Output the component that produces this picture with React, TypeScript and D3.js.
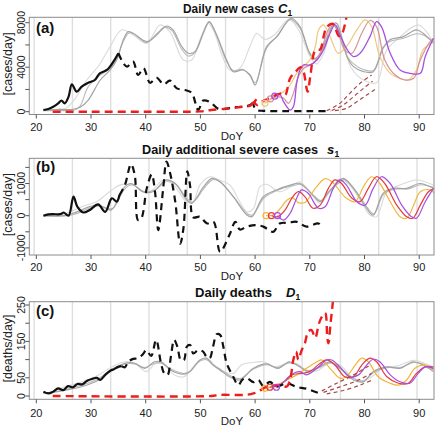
import React from "react";
import * as d3 from "d3";

type P = [number, number];

// ---------- shared axis values ----------
const X_TICKS = [20, 30, 40, 50, 60, 70, 80, 90];
const WEEK_LINES = [19.6, 26.6, 33.6, 40.6, 47.6, 54.6, 61.6, 68.6, 75.6, 82.6, 89.6];
const A_Y_TICKS = [0, 2000, 4000, 6000, 8000];
const A_Y_LABELS = [0, 4000, 8000];
const B_Y_TICKS = [-1000, -500, 0, 500, 1000, 1500];
const B_Y_LABELS = [-1000, 0, 1000];
const C_Y_TICKS = [0, 50, 100, 150, 200, 250];
const C_Y_LABELS = [0, 50, 150, 250];

// ---------- panel (a): daily new cases ----------
const A_OBS: P[] = [[21.3,150],[22.2,250],[23.1,450],[24.0,750],[24.6,1000],[25.2,750],[25.9,1350],[26.5,2450],[27.4,1800],[28.3,2250],[29.5,2600],[30.7,2850],[31.6,3450],[32.9,3750],[34.1,4500],[35.0,5250]];
const A_OBS_DASH: P[] = [[35.0,5250],[36.0,4300],[36.6,4050],[37.7,4500],[38.6,3300],[39.6,3900],[40.8,2600],[42.0,3050],[43.3,2450],[44.4,2800],[45.7,2100],[47.2,1950],[48.4,1700],[49.6,150],[50.5,1000],[51.8,850],[53.3,250],[54.5,250],[56.0,400],[57.8,450],[59.1,600],[60.1,1050],[59.7,650],[60.3,150],[61.5,80],[65,50],[70,50],[73.8,50]];
const A_RED_DASH: P[] = [[23,0],[30,0],[40,0],[50,30],[52,150],[55.4,300],[57.8,450],[59.1,550],[60.3,1150],[59.9,850],[60.4,600],[61.2,900],[62.1,1100],[63.3,1400],[64.9,1650],[65.5,1500],[66.4,3000],[67.6,3700],[68.3,4000],[68.8,3700],[69.6,1800],[70.1,3200],[71.0,5500],[71.9,5600],[72.5,6700],[73.1,7600],[74.2,7900],[75.3,6800],[75.8,6900],[76.7,8500]];
const A_GRAY_DARK: P[] = [[21.3,150],[24,200],[26.5,200],[28,400],[29.5,1050],[31.7,2850],[33.5,3750],[34.7,4650],[35.9,6450],[36.8,7200],[37.7,7050],[40.2,6300],[42.0,6900],[43.8,7700],[45.0,7350],[46.6,5850],[47.8,5250],[49.0,5400],[50.5,7050],[51.6,8100],[52.8,7100],[54.8,4650],[56.0,3600],[57.8,3750],[59.1,3300],[60.0,2400],[62.1,5850],[64.0,6750],[66.6,8400],[68.2,7650],[70.0,5250],[71.0,4800],[71.9,5250],[74.4,7950],[75.0,7900],[76.8,4950],[78.0,4050],[79.8,3600],[81.6,3600],[83.4,5700],[84.6,6450],[87.1,6750],[89.5,7350],[90.7,7050],[92.6,6150]];
const A_GRAY_MID: P[] = [[21.3,100],[25,100],[27,150],[28,500],[29.5,2250],[31.7,3300],[33.5,3900],[34.7,4800],[35.9,6300],[37.0,7100],[38,6950],[40.2,6200],[42.2,7100],[43.5,7600],[44.8,7300],[46.6,5600],[47.8,5000],[49,5300],[50.5,7000],[51.6,8050],[52.8,7000],[54.8,4500],[56,3700],[57.8,3800],[59.1,3200],[60,2600],[62.1,5700],[64,6800],[66.5,8300],[68.2,7500],[70,5200],[71,4700],[72,5200],[74.4,7800],[75,7700],[76.8,5000],[78,4300],[79.8,3800],[81.6,3700],[83.4,5800],[84.6,6300],[87.1,6600],[89.5,7000],[90.7,6900],[92.6,6300]];
const A_GRAY_LIGHT: P[] = [[21.3,100],[23,200],[25.4,300],[27,1100],[29.2,2850],[31.5,4200],[33.5,5850],[35.6,7350],[37.7,6900],[40.2,6150],[42.6,7800],[44.4,7200],[46.9,4650],[48.4,4650],[49.9,6450],[51.4,7950],[52.5,7200],[54,5000],[55.4,3750],[57.2,3900],[59,5800],[60.3,7050],[61.8,6500],[63.5,6900],[66.2,8300],[68,7300],[70,5000],[71.2,4300],[72.5,5200],[74.3,7700],[76,6500],[77.5,4000],[80,2800],[82.2,2600],[84,5500],[86,6500],[89.9,7800],[92.6,6200]];
const A_ORANGE: P[] = [[61.8,750],[62.7,1050],[64.0,1500],[65.2,1800],[66.4,2400],[67.6,3450],[68.8,4050],[70.0,4650],[71.0,5850],[71.6,7350],[72.5,7800],[73.7,6750],[75.2,5250],[76.7,5850],[78.6,7350],[80.1,8250],[81.3,7650],[82.8,4950],[84.7,3450],[86.5,3000],[88.0,2850],[89.5,3750],[90.7,5550],[92.6,6300]];
const A_RED: P[] = [[62.8,1150],[64.2,1350],[65.2,1200],[66.1,750],[67.0,1650],[67.9,3150],[68.9,3900],[70.6,4350],[71.9,5250],[73.1,7050],[74.2,7900],[75.2,7050],[76.4,5550],[77.7,5250],[79.5,7050],[81.0,8200],[82.2,7650],[83.7,4650],[85.6,3300],[87.4,2850],[89.0,3000],[90.2,4650],[92.0,6300],[92.7,6600]];
const A_PURPLE: P[] = [[63.6,1400],[64.6,1500],[65.2,900],[66.4,150],[67.0,450],[67.6,2550],[68.2,3750],[68.8,4200],[70.0,4200],[71.3,4650],[72.5,5550],[73.7,7050],[74.6,7800],[75.5,6900],[76.7,5700],[78.0,4950],[79.2,5250],[81.0,6750],[82.2,8100],[83.1,7650],[84.7,5250],[86.5,3750],[88.3,3450],[90.2,3450],[91.1,4950],[92.6,6600]];
const A_BROWN_1: P[] = [[73.1,100],[75.5,750],[77.3,1650],[79.2,2550],[81.3,3300]];
const A_BROWN_2: P[] = [[74.0,100],[76.1,600],[78.0,1350],[79.8,2100],[81.5,2750]];
const A_BROWN_3: P[] = [[74.6,100],[76.7,300],[78.6,900],[80.4,1500],[81.9,2000]];

// ---------- panel (b): daily additional severe cases ----------
const B_OBS: P[] = [[21.3,0],[22.2,40],[23.1,50],[24.0,40],[24.6,60],[25.0,100],[25.9,0],[26.8,590],[27.5,280],[28.6,100],[29.8,180],[31.3,350],[32.6,120],[33.8,540],[34.7,435],[35.2,640]];
const B_OBS_DASH: P[] = [[35.2,640],[36.2,950],[37.3,1600],[38.0,1260],[38.6,-135],[39.2,-80],[40.2,850],[41.1,1280],[41.7,745],[42.3,-445],[43.2,850],[43.8,1680],[44.4,1370],[45.4,435],[46.3,-870],[46.9,-390],[47.6,1380],[48.1,950],[48.7,-50],[49.9,-30],[51.2,-240],[52.4,-190],[53.6,-1120],[55.3,-600],[56.4,-190],[57.2,-430],[58.5,-340],[60,-290],[61.5,-340],[63.3,-500],[64.5,-240],[66,-220],[67.6,-190],[69.4,-340],[71.6,-240],[72.2,-390]];
const B_GRAY_DARK: P[] = [[21.3,0],[25.2,0],[27.4,120],[29.8,280],[31.4,330],[33.7,180],[35.9,850],[37.3,1000],[39.5,745],[41.3,745],[43.8,1110],[45.4,1000],[47.5,490],[48.4,385],[50.6,900],[52.1,1160],[53.6,1055],[56.0,590],[58.5,20],[59.4,-30],[61.5,590],[63.9,800],[66.4,950],[68.2,1000],[70.6,640],[71.9,435],[73.5,750],[75.6,1110],[76.2,1160],[78.0,850],[80.4,230],[81.6,20],[83.4,695],[85.3,850],[87.7,850],[90.1,1000],[92.6,850]];
const B_GRAY_MID: P[] = [[21.3,0],[25.5,0],[27.6,80],[29.8,240],[31.6,300],[33.9,220],[36.1,820],[37.5,960],[39.6,760],[41.5,780],[44.0,1080],[45.6,960],[47.6,520],[48.6,420],[50.8,880],[52.3,1120],[53.8,1020],[56.2,560],[58.6,60],[59.5,20],[61.7,560],[64.0,780],[66.6,920],[68.4,960],[70.7,620],[72.0,470],[73.7,780],[75.8,1080],[76.4,1120],[78.2,820],[80.5,260],[81.7,60],[83.5,660],[85.5,820],[87.9,830],[90.3,960],[92.6,880]];
const B_GRAY_LIGHT: P[] = [[21.3,0],[23,0],[25.2,60],[28.3,280],[31.0,435],[33.4,745],[35.2,950],[37.7,950],[40.0,695],[41.6,850],[43.2,1110],[45.1,950],[47.5,435],[48.7,435],[49.9,950],[51.8,1210],[53.6,1100],[55.4,950],[57.2,435],[58.5,120],[59.7,230],[60.9,900],[62.1,975],[64.5,745],[67.0,950],[68.2,1055],[70.6,590],[71.9,385],[73.5,700],[75.6,1160],[77.5,900],[79.5,400],[81.0,20],[82.2,-30],[84.1,745],[86.5,950],[89.5,1110],[92.6,950]];
const B_ORANGE: P[] = [[62.0,0],[63.3,20],[64.5,200],[65.8,480],[66.8,560],[68.0,400],[69.2,420],[71.0,850],[72.8,1150],[74.0,1060],[76.7,540],[78.3,435],[79.8,900],[81.3,1210],[82.8,1000],[84.7,435],[86.5,-30],[87.7,-80],[89.0,330],[90.2,745],[92.0,800],[92.9,670]];
const B_RED: P[] = [[63.0,0],[64.2,-30],[65.5,180],[66.7,540],[67.9,745],[69.1,590],[70.6,230],[71.9,330],[73.4,850],[74.6,1110],[75.8,1000],[77.7,540],[79.2,435],[80.7,850],[82.2,1210],[83.7,1000],[85.9,330],[87.7,-30],[88.8,-80],[90.2,330],[91.7,745],[92.9,850]];
const B_PURPLE: P[] = [[64.1,0],[65.2,-135],[66.4,75],[67.6,540],[68.5,800],[69.7,695],[71.6,230],[72.8,280],[74.3,850],[75.5,1110],[76.7,950],[78.6,435],[80.1,330],[81.6,850],[83.1,1210],[84.7,1000],[86.8,330],[88.6,-30],[89.5,-80],[91.1,435],[92.6,850]];

// ---------- panel (c): daily deaths ----------
const C_OBS: P[] = [[21.3,12],[22.2,7],[23.1,12],[24.0,21],[24.9,16],[25.8,27],[26.7,24],[27.5,33],[28.4,32],[29.3,42],[30.2,47],[31.1,50],[31.7,44],[32.6,58],[33.6,70],[34.1,73],[35.0,80],[35.6,82]];
const C_OBS_DASH: P[] = [[35.6,82],[36.2,79],[36.8,94],[37.7,102],[38.6,104],[39.5,115],[40.1,126],[41.0,110],[41.9,154],[42.8,90],[43.4,62],[44.0,58],[44.6,108],[45.2,154],[45.8,135],[46.4,99],[47.0,99],[47.5,135],[48.1,140],[48.7,117],[49.6,126],[50.5,122],[51.1,108],[51.7,104],[52.3,135],[53.0,170],[53.6,168],[54.2,135],[54.8,90],[56.0,53],[56.9,30],[57.7,45],[58.5,49],[59.7,38],[60.6,44],[61.5,27],[62.7,39],[63.9,26],[65.8,35],[67.6,25],[69.4,20],[71.6,8]];
const C_RED_DASH: P[] = [[23,0],[52,0],[53.5,3],[58,3],[59.7,7],[61,16],[62,25],[63,28],[64.5,30],[65.8,26],[66.4,45],[67.0,100],[67.5,122],[67.9,100],[68.5,125],[69.1,145],[69.7,177],[70.3,181],[71.0,160],[71.6,195],[72.1,215],[72.8,228],[73.2,160],[73.4,145],[73.8,200],[74.3,270]];
const C_GRAY_DARK: P[] = [[21.3,9],[23,10],[25.4,16],[28.4,26],[31.4,44],[33.8,71],[36.2,90],[38.0,90],[39.8,76],[41.6,94],[42.8,94],[44.6,71],[47.0,60],[48.1,67],[49.9,99],[51.1,104],[52.3,85],[53.6,71],[55.4,52],[57.2,44],[59.7,76],[62.1,88],[64.2,76],[66.2,94],[67.8,84],[69.6,68],[71.5,78],[73.7,94],[75.5,76],[78.0,44],[79.8,39],[81.6,67],[84.1,80],[86.5,76],[88.9,94],[90.7,85],[92.6,67]];
const C_GRAY_MID: P[] = [[21.3,8],[23,10],[25.4,18],[28.4,30],[31.4,48],[33.8,74],[36.2,88],[38.0,88],[39.8,78],[41.6,90],[42.8,91],[44.6,74],[47.0,62],[48.1,68],[49.9,96],[51.1,100],[52.3,86],[53.6,74],[55.4,56],[57.2,48],[59.7,74],[62.1,86],[64.2,78],[66.2,92],[67.8,84],[69.6,70],[71.5,76],[73.7,91],[75.5,78],[78.0,48],[79.8,42],[81.6,64],[84.1,78],[86.5,78],[88.9,92],[90.7,88],[92.6,72]];
const C_GRAY_LIGHT: P[] = [[21.3,6],[23,12],[25.4,26],[28.4,39],[31.4,58],[33.8,80],[36.2,94],[38,90],[40.1,67],[41.9,90],[43.4,87],[45.2,58],[47.0,53],[49.3,90],[51.1,104],[52.9,80],[54.5,66],[56.0,62],[57.5,85],[59.5,92],[61.5,94],[63.5,80],[65.5,88],[67.5,90],[69.5,70],[71.5,70],[73.5,90],[75.5,85],[77.5,55],[79.5,40],[81.5,55],[83.5,78],[86,82],[89,98],[91,90],[92.6,80]];
const C_ORANGE: P[] = [[61.8,21],[63.9,30],[65.8,44],[67.6,58],[69.4,76],[71.3,94],[72.2,99],[73.7,76],[75.5,49],[76.7,53],[78.3,85],[79.5,104],[80.7,94],[82.5,53],[84.7,35],[86.2,30],[87.7,44],[89.2,76],[90.7,85],[92.6,76]];
const C_RED: P[] = [[62.7,24],[64.5,30],[66.7,58],[68.5,62],[70.0,67],[71.9,90],[73.1,99],[74.6,85],[76.4,53],[78.0,53],[79.5,85],[81.0,104],[82.2,94],[84.1,53],[86.2,35],[88.0,35],[89.5,62],[91.1,80],[92.6,76]];
const C_PURPLE: P[] = [[63.9,24],[65.8,45],[67.0,62],[68.2,67],[69.4,58],[71.3,76],[73.1,99],[74.0,99],[75.5,80],[77.3,53],[78.9,58],[80.4,85],[81.6,101],[82.8,94],[84.7,58],[86.5,39],[88.3,35],[89.8,62],[91.1,80],[92.6,80]];
const C_BROWN_1: P[] = [[72.2,14],[74.9,35],[78.0,58],[81.0,85]];
const C_BROWN_2: P[] = [[72.5,10],[75.5,25],[78.6,42],[81.3,62]];
const C_BROWN_3: P[] = [[73.1,6],[76.1,15],[79.2,30],[81.6,45]];

// ---------- styles ----------
const FONT = "'Liberation Sans', Arial, sans-serif";
const COL = {
  black: "#111111",
  red: "#EE1D1D",
  grayDark: "#a3a3a3",
  grayMid: "#bababa",
  grayLight: "#dadada",
  grid: "#dedede",
  brown: "#A84848",
};

type Layer = { data: P[]; color: string; width: number; dash?: string; circle?: boolean };

const BOX_L = 29.3;
const BOX_R = 434;
const x = d3.scaleLinear().domain([20, 90]).range([36.3, 419.2]);

function Panel(props: {
  id: string;
  top: number;
  bottom: number;
  y: d3.ScaleLinear<number, number>;
  yTicks: number[];
  yLabels: number[];
  yTitle: string;
  tag: string;
  tagY: number;
  title: string;
  titleX: number;
  titleW: number;
  titleY: number;
  sym: string;
  symX: number;
  tickLabelY: number;
  doyY: number;
  layers: Layer[];
}) {
  const { id, top, bottom, y, layers } = props;
  const line = d3
    .line<P>()
    .x((d) => x(d[0]))
    .y((d) => y(d[1]))
    .curve(d3.curveCatmullRom.alpha(0.5));
  const midY = (top + bottom) / 2;
  return (
    <g>
      <defs>
        <clipPath id={"clip-" + id}>
          <rect x={BOX_L} y={top} width={BOX_R - BOX_L} height={bottom - top} />
        </clipPath>
      </defs>
      {WEEK_LINES.map((w) => (
        <line key={w} x1={x(w)} x2={x(w)} y1={top} y2={bottom} stroke={COL.grid} strokeWidth={1.4} />
      ))}
      <g clipPath={`url(#clip-${id})`}>
        {layers.map((l, i) => (
          <path
            key={i}
            d={line(l.data) || ""}
            fill="none"
            stroke={l.color}
            strokeWidth={l.width}
            strokeDasharray={l.dash}
            strokeLinejoin="round"
          />
        ))}
        {layers
          .filter((l) => l.circle)
          .map((l, i) => (
            <circle key={"c" + i} cx={x(l.data[0][0])} cy={y(l.data[0][1])} r={3} fill="none" stroke={l.color} strokeWidth={1.2} />
          ))}
      </g>
      <rect x={BOX_L} y={top} width={BOX_R - BOX_L} height={bottom - top} fill="none" stroke="#8c8c8c" strokeWidth={1} />
      {props.yTicks.map((t) => (
        <line key={t} x1={BOX_L - 4} x2={BOX_L} y1={y(t)} y2={y(t)} stroke="#555" strokeWidth={1} />
      ))}
      {props.yLabels.map((t) => (
        <text key={t} transform={`translate(24.5,${y(t)}) rotate(-90)`} textAnchor="middle" fontSize={10.5} fill="#222" fontFamily={FONT}>
          {t}
        </text>
      ))}
      <text transform={`translate(11.5,${midY - 2}) rotate(-90)`} textAnchor="middle" fontSize={12.5} fill="#222" fontFamily={FONT}>
        {props.yTitle}
      </text>
      {X_TICKS.map((t) => (
        <g key={t}>
          <line x1={x(t)} x2={x(t)} y1={bottom} y2={bottom + 4} stroke="#555" strokeWidth={1} />
          <text x={x(t)} y={props.tickLabelY} textAnchor="middle" fontSize={11} fill="#222" fontFamily={FONT}>
            {t}
          </text>
        </g>
      ))}
      <text x={232} y={props.doyY} textAnchor="middle" fontSize={11.5} fill="#222" fontFamily={FONT}>
        DoY
      </text>
      <text x={36} y={props.tagY} fontSize={15} fontWeight="bold" fill="#111" fontFamily={FONT}>
        {props.tag}
      </text>
      <text x={props.titleX} y={props.titleY} fontSize={12.5} fontWeight="bold" fill="#111" fontFamily={FONT}
        textLength={props.titleW} lengthAdjust="spacingAndGlyphs">
        {props.title}
      </text>
      <text x={props.symX} y={props.titleY} fontSize={13} fontWeight="bold" fontStyle="italic" fill="#111" fontFamily={FONT}>
        {props.sym}
      </text>
      <text x={props.symX + (props.sym === "s" ? 7.5 : 9.5)} y={props.titleY + 3} fontSize={8.5} fontWeight="bold" fill="#111" fontFamily={FONT}>
        1
      </text>
    </g>
  );
}

const OR_A = "#F0C77E";
const RD_A = "#D79494";
const PU = "#A54FE0";
const OR = "#F2B538";
const RD = "#E6393A";

export default function App() {
  const yA = d3.scaleLinear().domain([0, 8000]).range([111.7, 22.7]);
  const yB = d3.scaleLinear().domain([0, 1000]).range([215.7, 183.5]);
  const yC = d3.scaleLinear().domain([0, 250]).range([396, 305]);

  const gray = (a: P[], b: P[], c: P[]): Layer[] => [
    { data: c, color: COL.grayLight, width: 1.1 },
    { data: b, color: COL.grayMid, width: 1.1 },
    { data: a, color: COL.grayDark, width: 1.2 },
  ];

  const layersA: Layer[] = [
    ...gray(A_GRAY_DARK, A_GRAY_MID, A_GRAY_LIGHT),
    { data: A_ORANGE, color: OR_A, width: 1.2, circle: true },
    { data: A_RED, color: RD_A, width: 1.2, circle: true },
    { data: A_PURPLE, color: PU, width: 1.3, circle: true },
    { data: A_OBS, color: COL.black, width: 2.2 },
    { data: A_OBS_DASH, color: COL.black, width: 2.2, dash: "7 5" },
    { data: A_RED_DASH, color: COL.red, width: 2.4, dash: "8 5" },
    { data: A_BROWN_1, color: COL.brown, width: 1.2, dash: "4 3" },
    { data: A_BROWN_2, color: COL.brown, width: 1.2, dash: "4 3" },
    { data: A_BROWN_3, color: COL.brown, width: 1.2, dash: "4 3" },
  ];
  const layersB: Layer[] = [
    ...gray(B_GRAY_DARK, B_GRAY_MID, B_GRAY_LIGHT),
    { data: B_ORANGE, color: OR, width: 1.2, circle: true },
    { data: B_RED, color: RD, width: 1.2, circle: true },
    { data: B_PURPLE, color: PU, width: 1.2, circle: true },
    { data: B_OBS, color: COL.black, width: 2.2 },
    { data: B_OBS_DASH, color: COL.black, width: 2.2, dash: "7 5" },
  ];
  const layersC: Layer[] = [
    ...gray(C_GRAY_DARK, C_GRAY_MID, C_GRAY_LIGHT),
    { data: C_ORANGE, color: OR, width: 1.2, circle: true },
    { data: C_RED, color: RD, width: 1.2, circle: true },
    { data: C_PURPLE, color: PU, width: 1.2, circle: true },
    { data: C_OBS, color: COL.black, width: 2.2 },
    { data: C_OBS_DASH, color: COL.black, width: 2.2, dash: "7 5" },
    { data: C_RED_DASH, color: COL.red, width: 2.4, dash: "8 5" },
    { data: C_BROWN_1, color: COL.brown, width: 1.2, dash: "4 3" },
    { data: C_BROWN_2, color: COL.brown, width: 1.2, dash: "4 3" },
    { data: C_BROWN_3, color: COL.brown, width: 1.2, dash: "4 3" },
  ];

  return (
    <svg width={440} height={426} style={{ position: "absolute", left: 0, top: 0, background: "#fff" }}>
      <rect width={440} height={426} fill="#fff" />
      <Panel id="a" top={17.3} bottom={114.5} y={yA} yTicks={A_Y_TICKS} yLabels={A_Y_LABELS} yTitle="[cases/day]"
        tag="(a)" tagY={33} title="Daily new cases" titleX={183} titleW={91} titleY={12.5} sym="C" symX={278}
        tickLabelY={131} doyY={139.5} layers={layersA} />
      <Panel id="b" top={158.3} bottom={255} y={yB} yTicks={B_Y_TICKS} yLabels={B_Y_LABELS} yTitle="[cases/day]"
        tag="(b)" tagY={172} title="Daily additional severe cases" titleX={142} titleW={176} titleY={153.5} sym="s" symX={327}
        tickLabelY={270.5} doyY={280} layers={layersB} />
      <Panel id="c" top={301.7} bottom={399.3} y={yC} yTicks={C_Y_TICKS} yLabels={C_Y_LABELS} yTitle="[deaths/day]"
        tag="(c)" tagY={316} title="Daily deaths" titleX={195} titleW={77} titleY={297} sym="D" symX={286}
        tickLabelY={416.5} doyY={425} layers={layersC} />
    </svg>
  );
}
